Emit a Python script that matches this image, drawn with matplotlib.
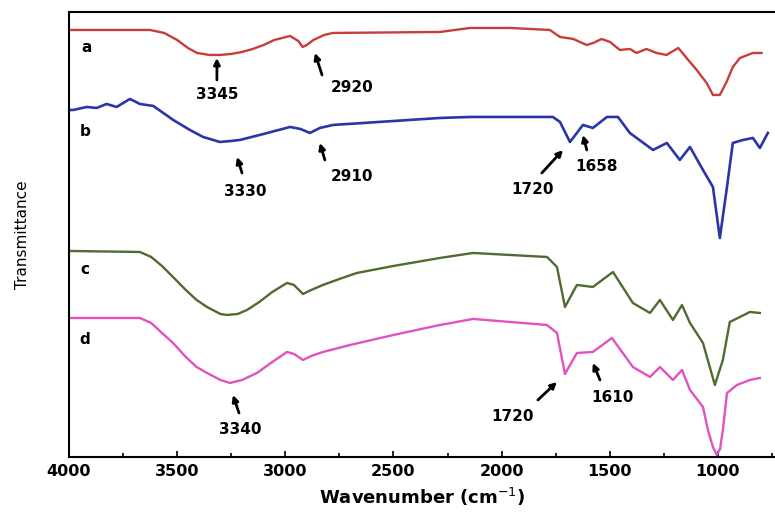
import matplotlib.pyplot as plt
from matplotlib.ticker import MultipleLocator

# spectrum a (red)
wn_a = [4000, 3626, 3560, 3500, 3450, 3408, 3350, 3302, 3250, 3200, 3150, 3100, 3050, 2978, 2940,
        2920, 2900, 2870, 2820, 2780, 2285, 2146, 1961, 1777,
        1730, 1669, 1607, 1576, 1538, 1499, 1453, 1407, 1376, 1330, 1284, 1238, 1183, 1145, 1098,
        1052, 1023, 991, 960, 931, 898, 838, 798]
t_a = [427, 427, 424, 417, 409, 404, 402, 402, 403, 405, 408, 412, 417, 421, 416,
       410, 412, 417, 422, 424, 425, 429, 429, 427,
       420, 418, 412, 414, 418, 415, 407, 408, 404, 408, 404, 402, 409, 399, 387,
       374, 362, 362, 375, 390, 399, 404, 404]

# spectrum b (blue)
wn_b = [4000, 3980, 3918, 3872, 3826, 3780, 3718, 3672, 3610, 3564, 3518, 3441, 3380, 3302, 3250,
        3210, 3100, 2978, 2930, 2886, 2840, 2780, 2285, 2146, 1763, 1730, 1684, 1652, 1624, 1578,
        1513, 1462, 1407, 1300, 1236, 1176, 1129, 1069, 1023, 991, 958, 931, 884, 838, 806, 769]
t_b = [347, 347, 350, 349, 353, 350, 358, 353, 351, 344, 337, 327, 320, 315, 316,
       317, 323, 330, 328, 324, 329, 332, 339, 340, 340, 335, 315, 324, 332, 329,
       340, 340, 324, 307, 314, 297, 310, 287, 270, 219, 270, 314, 317, 319, 309, 324]

# spectrum c (green)
wn_c = [4000, 3672, 3620, 3570, 3519, 3460, 3410, 3362, 3300, 3270, 3220, 3177, 3120, 3060, 2992,
        2960, 2918, 2880, 2826, 2750, 2669, 2500, 2285, 2132, 1790, 1744, 1707,
        1652, 1578, 1485, 1393, 1314, 1268, 1208, 1166, 1129, 1069, 1014, 977, 945, 898, 852, 806]
t_c = [206, 205, 200, 191, 180, 167, 157, 150, 143, 142, 143, 147, 155, 165, 174,
       172, 163, 167, 172, 178, 184, 191, 199, 204, 200, 190, 150,
       172, 170, 185, 154, 144, 157, 137, 152, 134, 114, 72, 97, 135, 140, 145, 144]

# spectrum d (magenta)
wn_d = [4000, 3672, 3620, 3570, 3519, 3460, 3410, 3362, 3300, 3256, 3200, 3131, 3060, 2992, 2960,
        2918, 2880, 2826, 2700, 2500, 2285, 2132, 1790, 1744, 1707, 1652,
        1578, 1490, 1393, 1314, 1268, 1208, 1166, 1129, 1069, 1046, 1023, 1005, 990, 977, 958,
        912, 852, 806]
t_d = [139, 139, 134, 124, 114, 100, 90, 84, 77, 74, 77, 84, 95, 105, 103,
       97, 101, 105, 112, 122, 132, 138, 132, 124, 83, 104,
       105, 119, 90, 80, 90, 77, 87, 67, 50, 27, 10, 2, 8, 27, 64,
       72, 77, 79]

# peak labels: text, arrow head (wn, T), arrow tail (wn, T), text position (wn, T)
peak_text = ['3345', '2920', '3330', '2910', '1720', '1658', '1720', '1610', '3340']
peak_head = [(3316, 399), (2863, 404), (3223, 300), (2840, 314), (1716, 307),
             (1624, 322), (1744, 75), (1578, 94), (3242, 62)]
peak_tail = [(3316, 377), (2830, 382), (3200, 284), (2817, 297), (1814, 284),
             (1606, 307), (1832, 57), (1545, 77), (3214, 44)]
peak_pos = [(3316, 362), (2692, 369), (3186, 265), (2692, 280), (1855, 267),
            (1559, 290), (1948, 40), (1485, 59), (3210, 27)]

series_names = ['a', 'b', 'c', 'd']
name_pos = [(3917, 409), (3926, 325), (3926, 187), (3926, 117)]

fig = plt.figure(figsize=(7.75, 5.2), dpi=100)
ax = fig.add_axes([0.089, 0.1212, 0.911, 0.8558])

ax.plot(wn_a, t_a, color='#c83c3c', lw=1.7)
ax.plot(wn_b, t_b, color='#2a36a8', lw=1.9)
ax.plot(wn_c, t_c, color='#4f6b32', lw=1.7)
ax.plot(wn_d, t_d, color='#e052c0', lw=1.7)

for txt, head, tail, pos in zip(peak_text, peak_head, peak_tail, peak_pos):
    ax.annotate('', xy=head, xytext=tail,
                arrowprops=dict(arrowstyle='-|>', color='black', lw=2, mutation_scale=9,
                                shrinkA=0, shrinkB=0))
    ax.text(pos[0], pos[1], txt, ha='center', va='center', fontsize=11, fontweight='bold')

for name, pos in zip(series_names, name_pos):
    ax.text(pos[0], pos[1], name, ha='center', va='center', fontsize=11, fontweight='bold')

ax.set_xlim(4000, 736)
ax.set_ylim(0, 445)
ax.xaxis.set_major_locator(MultipleLocator(500))
ax.xaxis.set_minor_locator(MultipleLocator(250))
ax.tick_params(axis='x', which='both', direction='in', labelsize=11.5, pad=5)
ax.tick_params(axis='x', which='major', length=4, width=1.2)
ax.tick_params(axis='x', which='minor', length=3, width=1.2)
for lbl in ax.get_xticklabels():
    lbl.set_fontweight('bold')
ax.set_yticks([])
ax.spines['right'].set_visible(False)
for s in ['left', 'top', 'bottom']:
    ax.spines[s].set_linewidth(1.5)

ax.set_xlabel('Wavenumber (cm$^{-1}$)', fontsize=13, fontweight='bold', labelpad=5)
ax.set_ylabel('Transmittance', fontsize=11, labelpad=28)

plt.savefig('out.png', dpi=100)
